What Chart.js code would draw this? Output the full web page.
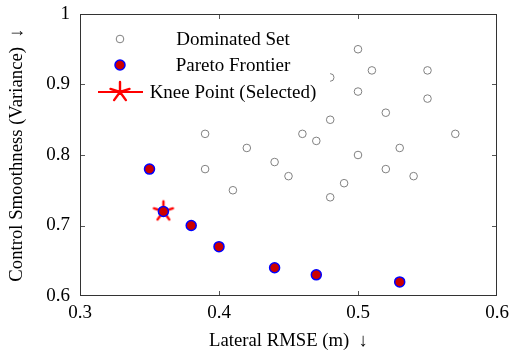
<!DOCTYPE html>
<html>
<head>
<meta charset="utf-8">
<script src="https://cdn.jsdelivr.net/npm/chart.js@4.4.1/dist/chart.umd.min.js"></script>
<style>
  body { margin: 0; background: #fff; }
  canvas { display: block; }
</style>
</head>
<body>
<canvas id="pareto_chart" width="510" height="352"></canvas>
<script>
// dominated solutions
const dom_x = [0.50, 0.51, 0.55, 0.48, 0.50, 0.55, 0.52, 0.48, 0.39, 0.46, 0.47, 0.57,
  0.42, 0.53, 0.50, 0.44, 0.39, 0.45, 0.52, 0.54, 0.49, 0.41, 0.48];
const dom_y = [0.95, 0.92, 0.92, 0.91, 0.89, 0.88, 0.86, 0.85, 0.83, 0.83, 0.82, 0.83,
  0.81, 0.81, 0.80, 0.79, 0.78, 0.77, 0.78, 0.77, 0.76, 0.75, 0.74];

// pareto frontier
const pareto_x = [0.35, 0.36, 0.38, 0.40, 0.44, 0.47, 0.53];
const pareto_y = [0.78, 0.72, 0.70, 0.67, 0.64, 0.63, 0.62];

// selected knee point
const knee_x = [0.36];
const knee_y = [0.72];

const x_ticks = [0.3, 0.4, 0.5, 0.6];
const x_tick_labels = ["0.3", "0.4", "0.5", "0.6"];
const y_ticks = [0.6, 0.7, 0.8, 0.9, 1.0];
const y_tick_labels = ["0.6", "0.7", "0.8", "0.9", "1"];

const legend_labels = ["Dominated Set", "Pareto Frontier", "Knee Point (Selected)"];

const FONT = "'Liberation Serif', 'Times New Roman', serif";

function toPoints(xs, ys) {
  return xs.map((x, i) => ({ x: x, y: ys[i] }));
}

// 5 armed asterisk like pgfplots "star"
function drawStar(ctx, cx, cy, r, lw) {
  ctx.save();
  ctx.strokeStyle = "#ff0000";
  ctx.lineWidth = lw;
  ctx.lineCap = "round";
  ctx.beginPath();
  for (let k = 0; k < 5; k++) {
    const a = -Math.PI / 2 + k * 2 * Math.PI / 5;
    ctx.moveTo(cx, cy);
    ctx.lineTo(cx + r * Math.cos(a), cy + r * Math.sin(a));
  }
  ctx.stroke();
  ctx.restore();
}

const star_img = document.createElement("canvas");
star_img.width = 24;
star_img.height = 24;
drawStar(star_img.getContext("2d"), 12, 12, 10, 2.4);

// frame + inward ticks on all four sides, legend with white box
const frame_plugin = {
  id: "frame",
  afterDraw(chart) {
    const ctx = chart.ctx;
    const a = chart.chartArea;
    const xs = chart.scales.x;
    const ys = chart.scales.y;
    ctx.save();
    ctx.strokeStyle = "#555";
    ctx.lineWidth = 1;
    ctx.beginPath();
    x_ticks.slice(1, -1).forEach((v) => {
      const px = Math.round(xs.getPixelForValue(v)) + 0.5;
      ctx.moveTo(px, a.bottom); ctx.lineTo(px, a.bottom - 5);
      ctx.moveTo(px, a.top); ctx.lineTo(px, a.top + 5);
    });
    y_ticks.slice(1, -1).forEach((v) => {
      const py = Math.round(ys.getPixelForValue(v)) + 0.5;
      ctx.moveTo(a.left, py); ctx.lineTo(a.left + 5, py);
      ctx.moveTo(a.right, py); ctx.lineTo(a.right - 5, py);
    });
    ctx.stroke();
    ctx.strokeStyle = "#333";
    ctx.strokeRect(a.left + 0.5, a.top + 0.5, a.right - a.left - 1, a.bottom - a.top - 1);

    // legend
    const lx = 120, tx = 233;
    const rows = [39, 65, 92];
    ctx.fillStyle = "#fff";
    ctx.fillRect(93, 24, 237, 80);
    ctx.beginPath();
    ctx.arc(lx, rows[0], 3.8, 0, 2 * Math.PI);
    ctx.strokeStyle = "#808080";
    ctx.lineWidth = 1;
    ctx.stroke();
    ctx.beginPath();
    ctx.arc(lx, rows[1], 5, 0, 2 * Math.PI);
    ctx.fillStyle = "#cc0000";
    ctx.fill();
    ctx.strokeStyle = "#0000ff";
    ctx.lineWidth = 1.5;
    ctx.stroke();
    ctx.beginPath();
    ctx.moveTo(98, rows[2]); ctx.lineTo(143, rows[2]);
    ctx.strokeStyle = "#ff0000";
    ctx.lineWidth = 2;
    ctx.stroke();
    drawStar(ctx, lx, rows[2], 10, 2.4);
    ctx.fillStyle = "#000";
    ctx.font = "19px " + FONT;
    ctx.textAlign = "center";
    ctx.textBaseline = "middle";
    legend_labels.forEach((t, i) => ctx.fillText(t, tx, rows[i] + 1));
    ctx.restore();
  },
};

const pareto_ctx = document.getElementById("pareto_chart");

const pareto_chart = new Chart(pareto_ctx, {
  type: "scatter",
  data: {
    datasets: [
      {
        label: legend_labels[0],
        data: toPoints(dom_x, dom_y),
        pointRadius: 3.8,
        pointBorderWidth: 1,
        borderColor: "#808080",
        backgroundColor: "rgba(255,255,255,0)",
      },
      {
        label: legend_labels[1],
        data: toPoints(pareto_x, pareto_y),
        pointRadius: 5,
        pointBorderWidth: 1.5,
        borderColor: "#0000ff",
        backgroundColor: "#cc0000",
      },
      {
        label: legend_labels[2],
        data: toPoints(knee_x, knee_y),
        pointStyle: star_img,
        pointRadius: 10,
      },
    ],
  },
  options: {
    responsive: false,
    animation: false,
    events: [],
    layout: { padding: 0 },
    plugins: { legend: { display: false }, tooltip: { enabled: false } },
    scales: {
      x: {
        type: "linear",
        min: 0.3,
        max: 0.6,
        grid: { display: false, drawTicks: false },
        border: { display: false },
        afterBuildTicks: (s) => { s.ticks = x_ticks.map((v) => ({ value: v })); },
        afterFit: (s) => { s.height = 56; s.paddingRight = 13; s.paddingLeft = 0; },
        ticks: {
          color: "#000",
          padding: 6,
          maxRotation: 0,
          font: { family: FONT, size: 19 },
          callback: (v, i) => x_tick_labels[i],
        },
        title: {
          display: true,
          text: "Lateral RMSE (m)  \u2193",
          color: "#000",
          padding: { top: 0, bottom: 0 },
          font: { family: FONT, size: 18.7 },
        },
      },
      y: {
        type: "linear",
        min: 0.6,
        max: 1.0,
        grid: { display: false, drawTicks: false },
        border: { display: false },
        afterBuildTicks: (s) => { s.ticks = y_ticks.map((v) => ({ value: v })); },
        afterFit: (s) => { s.width = 80; s.paddingTop = 14; s.paddingBottom = 0; },
        ticks: {
          color: "#000",
          padding: 10,
          font: { family: FONT, size: 19 },
          callback: (v, i) => y_tick_labels[i],
        },
        title: {
          display: true,
          text: "Control Smoothness (Variance)  \u2193",
          color: "#000",
          padding: { top: 6, bottom: 0 },
          font: { family: FONT, size: 18.7 },
        },
      },
    },
  },
  plugins: [frame_plugin],
});
</script>
</body>
</html>
